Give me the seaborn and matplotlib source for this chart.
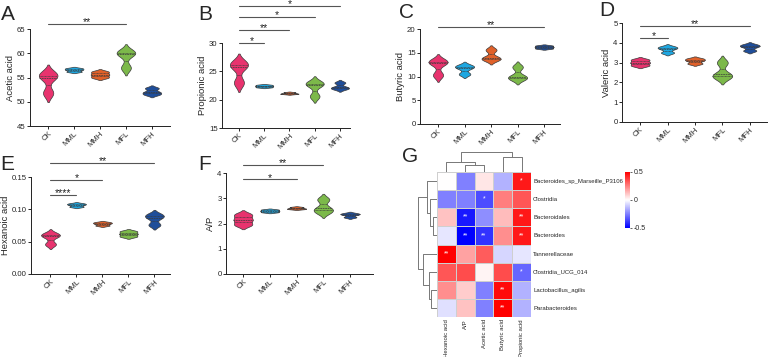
import matplotlib
matplotlib.use("Agg")
import matplotlib.pyplot as plt
import matplotlib.transforms as mtrans
import numpy as np
import pandas as pd
import seaborn as sns

sns.set_style("ticks")
plt.rcParams['font.family'] = ['Liberation Sans', 'DejaVu Sans']

# ---------------- data ----------------
groups = ["CK", "MML", "MMH", "MFL", "MFH"]
colors = ["#E8336E", "#1EA7E1", "#E0612A", "#7CB94A", "#1F4E9A"]

acetic = {"CK": [51.8, 55.0, 55.8], "MML": [56.2, 56.6, 56.9], "MMH": [55.0, 55.6, 56.2],
          "MFL": [57.0, 59.8, 60.3], "MFH": [51.5, 52.0, 52.8]}
propionic = {"CK": [23.0, 25.8, 26.5], "MML": [22.2, 22.4, 22.6], "MMH": [21.0, 21.1, 21.3],
             "MFL": [20.6, 22.6, 23.0], "MFH": [21.9, 22.2, 23.0]}
butyric = {"CK": [10.3, 12.8, 13.3], "MML": [10.5, 11.8, 12.3], "MMH": [13.5, 14.0, 15.6],
           "MFL": [9.5, 10.0, 12.0], "MFH": [15.9, 16.2, 16.5]}
valeric = {"CK": [2.85, 3.0, 3.15], "MML": [3.5, 3.7, 3.8], "MMH": [2.95, 3.1, 3.2],
           "MFL": [2.25, 2.4, 3.0], "MFH": [3.6, 3.8, 3.9]}
hexanoic = {"CK": [0.046, 0.058, 0.062], "MML": [0.104, 0.107, 0.109], "MMH": [0.075, 0.078, 0.080],
            "MFL": [0.058, 0.062, 0.066], "MFH": [0.076, 0.087, 0.092]}
ap_ratio = {"CK": [1.95, 2.15, 2.35], "MML": [2.45, 2.5, 2.55], "MMH": [2.57, 2.6, 2.65],
            "MFL": [2.45, 2.6, 2.95], "MFH": [2.25, 2.35, 2.4]}

# significance: (group_a, group_b, stars, height in axes fraction)
sig_A = [("CK", "MFL", "**", 1.05)]
sig_B = [("CK", "MFH", "*", 1.435), ("CK", "MFL", "*", 1.306), ("CK", "MMH", "**", 1.153), ("CK", "MML", "*", 1.0)]
sig_C = [("CK", "MFH", "**", 1.02)]
sig_D = [("CK", "MFH", "**", 0.97), ("CK", "MML", "*", 0.85)]
sig_E = [("CK", "MFH", "**", 1.144), ("CK", "MMH", "*", 0.969), ("CK", "MML", "****", 0.814)]
sig_F = [("CK", "MFL", "**", 1.08), ("CK", "MMH", "*", 0.94)]

heat_cols = ["Hexanoic acid", "A/P", "Acetic acid", "Butyric acid", "Propionic acid"]
heat_rows = ["Bacteroides_sp_Marseille_P3106", "Clostridia", "Bacteroidales", "Bacteroides",
             "Tannerellaceae", "Clostridia_UCG_014", "Lactobacillus_agilis", "Parabacteroides"]
heat_vals = [
    [0.00, -0.25, 0.05, -0.15, 0.45],
    [-0.25, -0.25, -0.35, 0.25, 0.33],
    [0.12, -0.45, -0.22, 0.13, 0.45],
    [-0.05, -0.50, -0.40, 0.22, 0.45],
    [0.50, 0.18, 0.32, -0.08, -0.05],
    [0.33, 0.35, 0.02, 0.35, -0.30],
    [0.22, 0.10, -0.25, 0.48, -0.15],
    [-0.06, 0.12, -0.25, 0.50, -0.15],
]
heat_stars = [
    ["", "", "", "", "*"],
    ["", "", "*", "", ""],
    ["", "**", "", "", "**"],
    ["", "**", "**", "", "**"],
    ["**", "", "", "", ""],
    ["", "", "", "", "*"],
    ["", "", "", "**", ""],
    ["", "", "", "**", ""],
]
# dendrogram merges: (a, b, height)
row_links = [(2, 3, 4), (1, 8, 7), (0, 9, 10), (6, 7, 6), (5, 11, 8), (4, 12, 14), (10, 13, 19)]
col_links = [(1, 2, 7), (0, 5, 10), (3, 4, 15), (6, 7, 20)]

# ---------------- figure ----------------
W, H = 769, 357
fig = plt.figure(figsize=(W / 100, H / 100), dpi=100)


def ax_px(l, t, r, b):
    return fig.add_axes([l / W, 1 - b / H, (r - l) / W, (b - t) / H])


def violin_panel(box, data, ylabel, yticks, ylim, xlim, sigs, ticklabels=None, label_x=None):
    ax = ax_px(*box)
    df = pd.DataFrame([(g, v) for g in groups for v in data[g]], columns=["group", "value"])
    sns.violinplot(data=df, x="group", y="value", hue="group", order=groups, hue_order=groups,
                   palette=colors, inner="quart", linewidth=0.5, linecolor="#3a3a3a",
                   bw_adjust=0.55, density_norm="width", width=0.72, legend=False,
                   saturation=1, ax=ax)
    for ln in ax.lines:
        ln.set_linewidth(0.5)
    ax.set_ylim(*ylim)
    ax.set_xlim(*xlim)
    ax.set_yticks(yticks)
    if ticklabels is not None:
        ax.set_yticklabels(ticklabels)
    ax.set_xlabel("")
    ax.set_ylabel(ylabel, fontsize=6.8, labelpad=1.5)
    if label_x is not None:
        ax.yaxis.set_label_coords((label_x - box[0]) / (box[2] - box[0]), 0.5)
    ax.tick_params(axis="y", labelsize=5.6, length=2.2, width=0.7, pad=1)
    ax.tick_params(axis="x", labelsize=5.6, length=2.2, width=0.7, pad=1)
    plt.setp(ax.get_xticklabels(), rotation=45, ha="right", rotation_mode="anchor")
    for s in ["top", "right"]:
        ax.spines[s].set_visible(False)
    for s in ["left", "bottom"]:
        ax.spines[s].set_linewidth(0.7)
        ax.spines[s].set_color("#222222")
    tr = mtrans.blended_transform_factory(ax.transData, ax.transAxes)
    for a, b, stars, hgt in sigs:
        xa, xb = groups.index(a), groups.index(b)
        ax.plot([xa, xb], [hgt, hgt], color="#555555", lw=0.8, transform=tr, clip_on=False)
        ax.text((xa + xb) / 2, hgt - 0.035, stars, ha="center", va="bottom", fontsize=7.5,
                transform=tr, color="#222222")
    return ax


violin_panel((30, 29, 170, 126), acetic, "Acetic acid", [45, 50, 55, 60, 65], (45, 65), (-0.7, 4.7), sig_A)
violin_panel((222, 43, 350, 128), propionic, "Propionic acid", [15, 20, 25, 30], (15, 30), (-0.67, 4.4), sig_B)
violin_panel((420, 29, 560, 124), butyric, "Butyric acid", [0, 5, 10, 15, 20], (0, 20), (-0.68, 4.6), sig_C)
violin_panel((622, 23, 767, 122), valeric, "Valeric acid", [0, 1, 2, 3, 4, 5], (0, 5), (-0.66, 4.63), sig_D)
violin_panel((31, 177, 170, 274), hexanoic, "Hexanoic acid", [0, 0.05, 0.10, 0.15], (0, 0.15), (-0.75, 4.6), sig_E,
             ticklabels=["0.00", "0.05", "0.10", "0.15"], label_x=10)
violin_panel((226, 173, 373, 274), ap_ratio, "A/P", [0, 1, 2, 3, 4], (0, 4), (-0.64, 4.86), sig_F)

# panel letters
for txt, x, y in [("A", 8, 14), ("B", 205, 14), ("C", 407, 13), ("D", 607, 11),
                  ("E", 7, 165), ("F", 205, 165), ("G", 410, 156)]:
    fig.text(x / W, 1 - y / H, txt, fontsize=15, ha="center", va="center")

# ---------------- heatmap ----------------
axh = ax_px(437, 172, 531, 317)
cax = ax_px(625, 172, 630, 228)
hdf = pd.DataFrame(heat_vals, index=heat_rows, columns=heat_cols)
sdf = pd.DataFrame(heat_stars, index=heat_rows, columns=heat_cols)
sns.heatmap(hdf, ax=axh, cmap="bwr", vmin=-0.5, vmax=0.5, cbar_ax=cax,
            linewidths=0.5, linecolor="#cfcfcf", annot=sdf, fmt="",
            annot_kws={"color": "white", "fontsize": 5})
axh.yaxis.tick_right()
axh.set_yticklabels(heat_rows, rotation=0, fontsize=4.3)
axh.set_xticklabels(heat_cols, rotation=90, fontsize=4.3)
axh.tick_params(length=0, pad=1.5)
axh.set_xlabel("")
axh.set_ylabel("")
cax.set_yticks([-0.5, 0, 0.5])
cax.set_yticklabels(["-0.5", "0", "0.5"])
cax.tick_params(labelsize=5, length=1.5, width=0.5, pad=1)
for sp in cax.spines.values():
    sp.set_visible(False)


def draw_dendro(ax, links, n, orient):
    pos = {i: i + 0.5 for i in range(n)}
    hts = {i: 0 for i in range(n)}
    for k, (a, b, h) in enumerate(links):
        pa, pb, ha, hb = pos[a], pos[b], hts[a], hts[b]
        if orient == "left":
            ax.plot([ha, h, h, hb], [pa, pa, pb, pb], color="#777777", lw=0.7)
        else:
            ax.plot([pa, pa, pb, pb], [ha, h, h, hb], color="#777777", lw=0.7)
        pos[n + k] = (pa + pb) / 2
        hts[n + k] = h
    ax.set_axis_off()


axr = ax_px(410, 172, 437, 317)
draw_dendro(axr, row_links, len(heat_rows), "left")
axr.set_xlim(27, 0)
axr.set_ylim(len(heat_rows), 0)

axc = ax_px(437, 150, 531, 172)
draw_dendro(axc, col_links, len(heat_cols), "top")
axc.set_xlim(0, len(heat_cols))
axc.set_ylim(0, 22)

fig.savefig("out.png", dpi=100)
